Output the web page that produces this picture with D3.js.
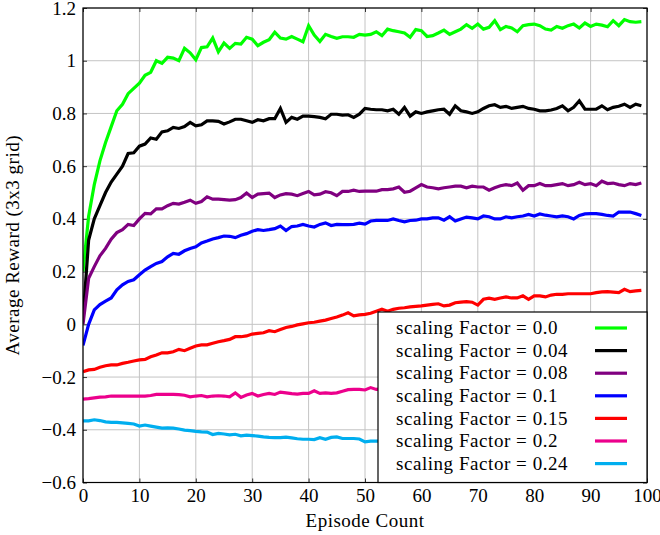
<!DOCTYPE html>
<html><head><meta charset="utf-8">
<script src="https://cdn.jsdelivr.net/npm/d3@7"></script>
<style>body{margin:0;background:#fff}svg{display:block}</style>
</head><body>
<svg id="c" width="660" height="535"></svg>
<script>
const xTicks = [0,10,20,30,40,50,60,70,80,90,100];
const yTicks = [-0.6,-0.4,-0.2,0,0.2,0.4,0.6,0.8,1,1.2];
const legendLabels = ["scaling Factor = 0.0","scaling Factor = 0.04","scaling Factor = 0.08","scaling Factor = 0.1","scaling Factor = 0.15","scaling Factor = 0.2","scaling Factor = 0.24"];
const colors = ["#00ff00","#000000","#800080","#0000ff","#ff0000","#ec008c","#00aeef"];

const factor00 = [0.20,0.41,0.53,0.62,0.69,0.75,0.81,0.835,0.875,0.895,0.915,0.945,0.956,1.0,0.99,1.013,1.01,1.0,1.047,1.03,1.004,1.05,1.053,1.086,1.034,1.067,1.047,1.066,1.063,1.089,1.082,1.057,1.07,1.08,1.108,1.086,1.082,1.092,1.082,1.072,1.133,1.097,1.073,1.10,1.092,1.085,1.091,1.091,1.089,1.10,1.097,1.10,1.11,1.095,1.12,1.114,1.11,1.105,1.089,1.118,1.114,1.092,1.095,1.105,1.116,1.10,1.11,1.12,1.137,1.123,1.139,1.12,1.127,1.152,1.118,1.13,1.124,1.11,1.133,1.137,1.139,1.133,1.12,1.116,1.13,1.123,1.133,1.139,1.124,1.143,1.13,1.139,1.135,1.129,1.152,1.133,1.156,1.148,1.146,1.148];
const factor04 = [0.02,0.32,0.40,0.45,0.50,0.54,0.57,0.60,0.648,0.651,0.676,0.684,0.707,0.702,0.73,0.734,0.747,0.743,0.75,0.766,0.753,0.757,0.772,0.772,0.77,0.76,0.768,0.778,0.778,0.772,0.766,0.776,0.772,0.78,0.78,0.819,0.766,0.785,0.778,0.79,0.79,0.788,0.785,0.78,0.797,0.797,0.794,0.795,0.785,0.797,0.819,0.816,0.814,0.814,0.81,0.816,0.797,0.823,0.79,0.806,0.80,0.806,0.81,0.814,0.816,0.797,0.829,0.81,0.806,0.80,0.806,0.819,0.829,0.833,0.823,0.827,0.819,0.823,0.827,0.819,0.816,0.81,0.81,0.813,0.819,0.829,0.81,0.823,0.848,0.816,0.816,0.816,0.829,0.814,0.823,0.827,0.835,0.823,0.835,0.829];
const factor08 = [0.0,0.175,0.219,0.26,0.288,0.323,0.348,0.359,0.379,0.375,0.40,0.421,0.419,0.438,0.438,0.45,0.459,0.456,0.463,0.471,0.459,0.466,0.484,0.475,0.475,0.473,0.471,0.473,0.481,0.498,0.481,0.494,0.496,0.498,0.481,0.491,0.496,0.494,0.488,0.496,0.504,0.491,0.494,0.503,0.499,0.488,0.504,0.504,0.509,0.504,0.505,0.505,0.505,0.511,0.511,0.514,0.521,0.501,0.505,0.518,0.53,0.521,0.518,0.514,0.518,0.521,0.524,0.524,0.518,0.524,0.521,0.521,0.509,0.518,0.526,0.53,0.526,0.536,0.509,0.526,0.526,0.534,0.526,0.526,0.53,0.534,0.526,0.53,0.539,0.53,0.534,0.526,0.543,0.534,0.536,0.53,0.526,0.534,0.53,0.536];
const factor10 = [-0.08,0.0,0.055,0.075,0.088,0.10,0.131,0.15,0.163,0.169,0.188,0.206,0.219,0.231,0.238,0.256,0.269,0.266,0.279,0.288,0.294,0.309,0.316,0.324,0.329,0.335,0.334,0.329,0.338,0.344,0.353,0.359,0.356,0.359,0.363,0.373,0.356,0.371,0.373,0.379,0.373,0.369,0.379,0.385,0.375,0.379,0.378,0.378,0.379,0.384,0.38,0.392,0.394,0.394,0.394,0.40,0.394,0.389,0.394,0.395,0.40,0.40,0.404,0.404,0.395,0.408,0.392,0.40,0.407,0.404,0.40,0.411,0.408,0.40,0.40,0.408,0.404,0.408,0.411,0.417,0.411,0.419,0.414,0.411,0.408,0.411,0.408,0.40,0.413,0.419,0.42,0.42,0.417,0.413,0.411,0.426,0.426,0.426,0.42,0.413];
const factor15 = [-0.18,-0.173,-0.171,-0.163,-0.157,-0.154,-0.154,-0.148,-0.144,-0.139,-0.135,-0.133,-0.123,-0.116,-0.108,-0.108,-0.104,-0.095,-0.10,-0.091,-0.082,-0.078,-0.078,-0.072,-0.066,-0.062,-0.057,-0.047,-0.047,-0.044,-0.037,-0.034,-0.032,-0.024,-0.028,-0.02,-0.012,-0.008,-0.002,0.002,0.006,0.008,0.012,0.016,0.022,0.028,0.035,0.044,0.032,0.036,0.038,0.042,0.05,0.057,0.05,0.057,0.061,0.063,0.066,0.068,0.07,0.073,0.076,0.078,0.07,0.073,0.082,0.084,0.086,0.084,0.073,0.095,0.099,0.095,0.10,0.104,0.10,0.10,0.108,0.095,0.108,0.108,0.104,0.111,0.114,0.114,0.116,0.116,0.116,0.116,0.116,0.12,0.123,0.124,0.122,0.12,0.133,0.124,0.127,0.129];
const factor20 = [-0.284,-0.282,-0.279,-0.276,-0.275,-0.272,-0.272,-0.272,-0.272,-0.272,-0.272,-0.272,-0.27,-0.266,-0.266,-0.266,-0.266,-0.267,-0.269,-0.275,-0.272,-0.27,-0.275,-0.272,-0.271,-0.272,-0.275,-0.26,-0.277,-0.268,-0.262,-0.272,-0.266,-0.262,-0.266,-0.257,-0.26,-0.263,-0.265,-0.262,-0.262,-0.252,-0.262,-0.26,-0.262,-0.26,-0.254,-0.248,-0.247,-0.247,-0.249,-0.24,-0.247,-0.245];
const factor24 = [-0.366,-0.366,-0.362,-0.365,-0.37,-0.372,-0.372,-0.374,-0.376,-0.378,-0.386,-0.382,-0.386,-0.39,-0.394,-0.393,-0.394,-0.397,-0.401,-0.403,-0.406,-0.408,-0.409,-0.418,-0.414,-0.416,-0.419,-0.417,-0.423,-0.42,-0.422,-0.424,-0.427,-0.429,-0.43,-0.43,-0.428,-0.431,-0.434,-0.436,-0.436,-0.437,-0.43,-0.436,-0.429,-0.427,-0.433,-0.433,-0.433,-0.435,-0.446,-0.443,-0.443,-0.443];
const seriesValues = [factor00,factor04,factor08,factor10,factor15,factor20,factor24];

const FONT = "'Liberation Serif','Times New Roman',serif";
const svg = d3.select("#c");
const L = 83, R = 647, T = 8, B = 482.5;
const x = d3.scaleLinear().domain([0,100]).range([L,R]);
const y = d3.scaleLinear().domain([-0.6,1.2]).range([B,T]);

// grid
const g = svg.append("g");
g.selectAll(".gx").data(xTicks).enter().append("line")
  .attr("x1",d=>x(d)).attr("x2",d=>x(d)).attr("y1",T).attr("y2",B)
  .attr("stroke","#c4c4c4").attr("stroke-width",1);
g.selectAll(".gy").data(yTicks).enter().append("line")
  .attr("y1",d=>y(d)).attr("y2",d=>y(d)).attr("x1",L).attr("x2",R)
  .attr("stroke","#c4c4c4").attr("stroke-width",1);

// axes with inward ticks on all sides
const fmt = d => d===0 ? "0" : (d<0 ? "\u2212" : "") + String(Math.abs(d));
const axB = svg.append("g").attr("transform",`translate(0,${B})`)
  .call(d3.axisBottom(x).tickValues(xTicks).tickSizeInner(-4).tickSizeOuter(0).tickPadding(9).tickFormat(d=>d));
const axT = svg.append("g").attr("transform",`translate(0,${T})`)
  .call(d3.axisTop(x).tickValues(xTicks).tickSizeInner(-4).tickSizeOuter(0).tickFormat(""));
const axL = svg.append("g").attr("transform",`translate(${L},0)`)
  .call(d3.axisLeft(y).tickValues(yTicks).tickSizeInner(-4).tickSizeOuter(0).tickPadding(7).tickFormat(fmt));
const axR = svg.append("g").attr("transform",`translate(${R},0)`)
  .call(d3.axisRight(y).tickValues(yTicks).tickSizeInner(-4).tickSizeOuter(0).tickFormat(""));
[axB,axT,axL,axR].forEach(a=>{
  a.select(".domain").attr("stroke","none");
  a.selectAll(".tick line").attr("stroke","#333").attr("stroke-width",1);
  a.selectAll("text").attr("font-family",FONT).attr("font-size",19).attr("fill","#000");
});
axB.selectAll("text").attr("dy","0.55em");

// clip
svg.append("clipPath").attr("id","clip").append("rect")
  .attr("x",L).attr("y",T).attr("width",R-L).attr("height",B-T);

const line = d3.line().x((d,i)=>x(i)).y(d=>y(d));
const lines = svg.append("g").attr("clip-path","url(#clip)");
seriesValues.forEach((vals,k)=>{
  lines.append("path").datum(vals).attr("d",line)
    .attr("fill","none").attr("stroke",colors[k]).attr("stroke-width",3.2)
    .attr("stroke-linejoin","miter").attr("stroke-miterlimit",10);
});

// frame
svg.append("rect").attr("x",L).attr("y",T).attr("width",R-L).attr("height",B-T)
  .attr("fill","none").attr("stroke","#000").attr("stroke-width",1.2);

// legend
const lg = svg.append("g");
lg.append("rect").attr("x",378).attr("y",312).attr("width",R-378).attr("height",B-312)
  .attr("fill","#fff").attr("stroke","#000").attr("stroke-width",1.2);
const rowY = i => 328 + i*22.6;
legendLabels.forEach((t,i)=>{
  lg.append("text").attr("x",396).attr("y",rowY(i)).attr("dy","0.33em")
    .attr("font-family",FONT).attr("font-size",19).attr("letter-spacing","0.55px").text(t);
  lg.append("line").attr("x1",595).attr("x2",627).attr("y1",rowY(i)).attr("y2",rowY(i))
    .attr("stroke",colors[i]).attr("stroke-width",3.2);
});

// axis titles
svg.append("text").attr("x",(L+R)/2).attr("y",527).attr("text-anchor","middle")
  .attr("font-family",FONT).attr("font-size",19).attr("letter-spacing","0.5px").text("Episode Count");
svg.append("text").attr("transform",`translate(19,${(T+B)/2}) rotate(-90)`).attr("text-anchor","middle")
  .attr("font-family",FONT).attr("font-size",19).attr("letter-spacing","0.5px").text("Average Reward (3x3 grid)");
</script>
</body></html>
